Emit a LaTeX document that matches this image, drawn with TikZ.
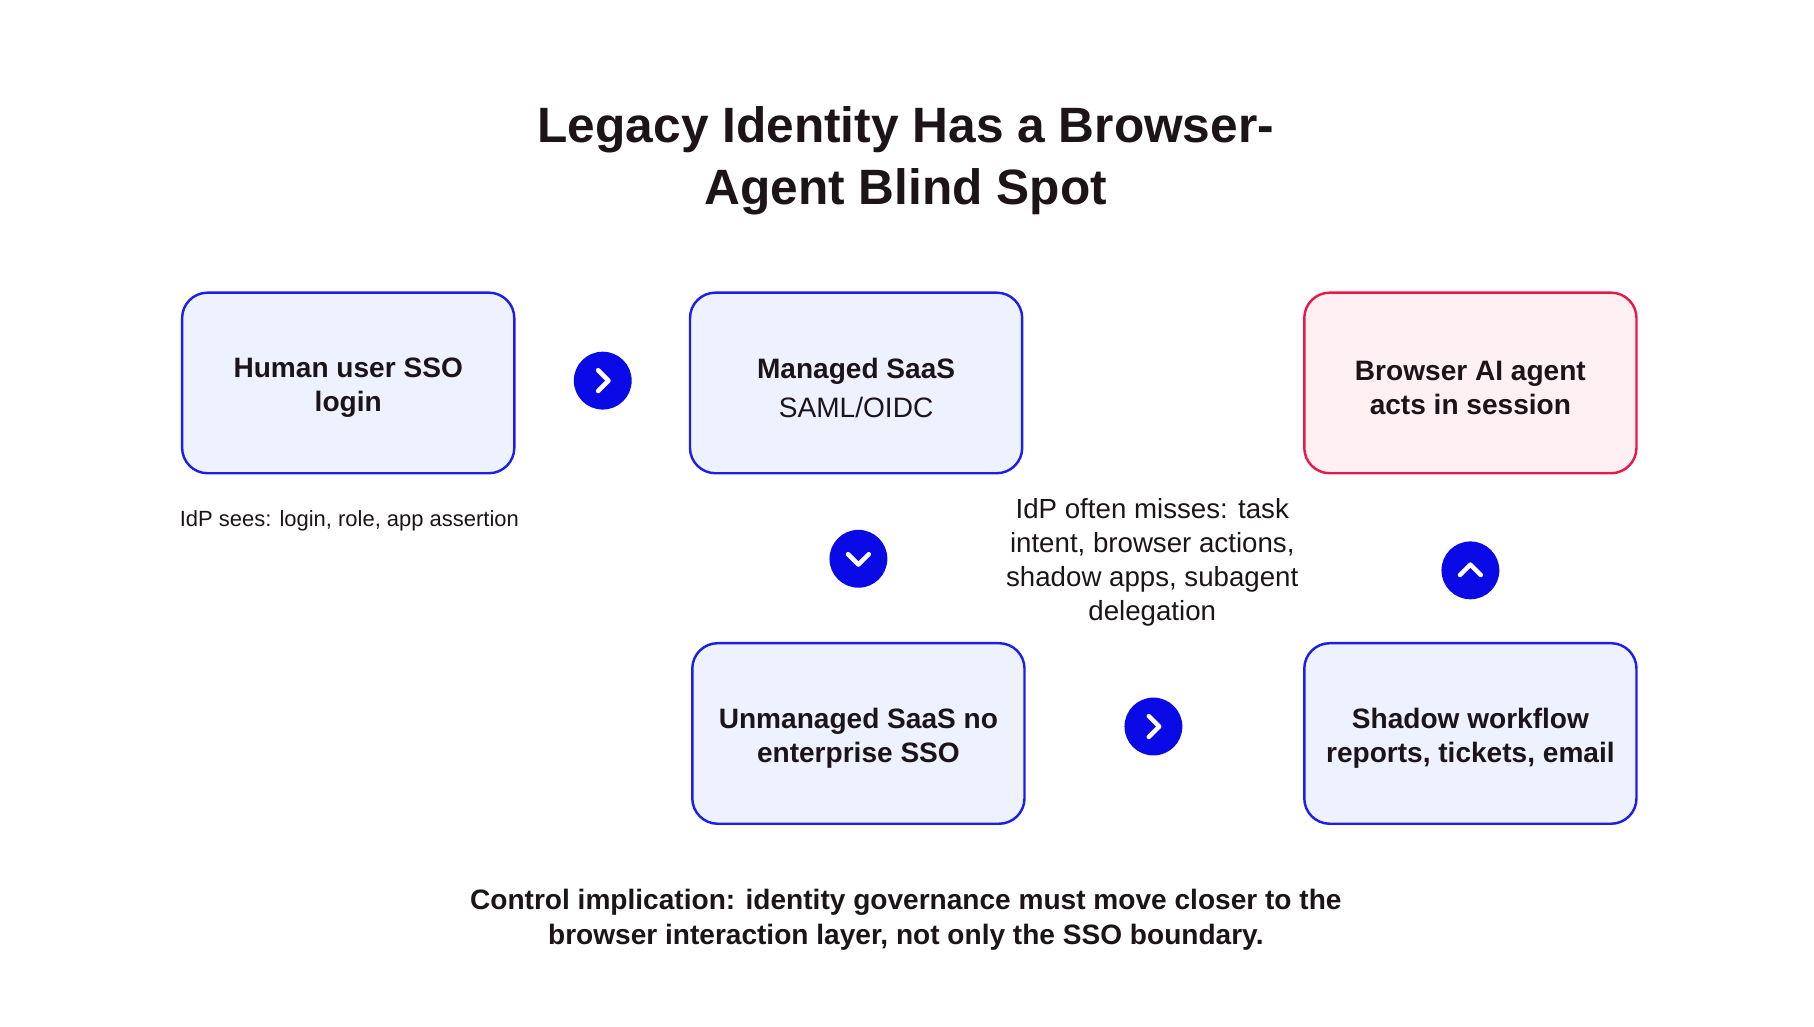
\documentclass[tikz,border=0pt]{standalone}
\usepackage{fontspec}
\setmainfont{Liberation Sans}
\usetikzlibrary{positioning}
\definecolor{boxblue}{RGB}{30,30,235}
\definecolor{boxfill}{RGB}{238,242,255}
\definecolor{boxred}{RGB}{232,25,74}
\definecolor{redfill}{RGB}{255,240,244}
\definecolor{stepblue}{RGB}{10,10,230}
\definecolor{ink}{RGB}{28,20,24}
\begin{document}
\begin{tikzpicture}[
        x=0.01cm, y=-0.01cm,
        stage/.style={rectangle, rounded corners=0.22cm, draw=boxblue, fill=boxfill, line width=0.6pt,
            minimum width=2.87cm, minimum height=1.56cm},
        alert/.style={stage, draw=boxred, fill=redfill},
        stagetext/.style={align=center, text=ink, yshift=-1.2pt, font=\fontsize{6.9}{8.5}\selectfont\bfseries},
        marker/.style={circle, fill=stepblue, minimum size=0.5cm, inner sep=0pt},
        chev/.style={draw=white, line width=1.1pt, line cap=round, line join=round},
        note/.style={align=center, text=ink}
    ]
        \useasboundingbox (0,0) rectangle (1568,887);
        % Title
        \node[note, font=\fontsize{12.2}{15.3}\selectfont\bfseries] (title) at (783,139)
            {Legacy Identity Has a Browser-\\Agent Blind Spot};

        % Stages
        \node[stage] (HUMAN) at (301,331) {};
        \node[stage] (MANAGED) at (740,331) {};
        \node[alert] (AGENT) at (1271,331) {};
        \node[stage] (UNMANAGED) at (742,634) {};
        \node[stage] (SHADOW) at (1271,634) {};
        \node[stagetext] at (HUMAN.center) {Human user SSO\\login};
        \node[stagetext] at (MANAGED.center) {Managed SaaS\\[1pt]\mdseries SAML/OIDC};
        \node[stagetext] at (AGENT.center) {Browser AI agent\\acts in session};
        \node[stagetext] at (UNMANAGED.center) {Unmanaged SaaS no\\enterprise SSO};
        \node[stagetext] at (SHADOW.center) {Shadow workflow\\reports, tickets, email};

        % Step markers
        \node[marker] (S1) at (521,329) {};
        \node[marker] (S2) at (742,483) {};
        \node[marker] (S3) at (997,628) {};
        \node[marker] (S4) at (1271,493) {};
        \draw[chev] ([shift={(-4,-9)}]S1.center) -- ++(9,9) -- ++(-9,9);
        \draw[chev] ([shift={(-4,-9)}]S3.center) -- ++(9,9) -- ++(-9,9);
        \draw[chev] ([shift={(-9,-4)}]S2.center) -- ++(9,9) -- ++(9,-9);
        \draw[chev] ([shift={(-9,4)}]S4.center) -- ++(9,-9) -- ++(9,9);

        % Notes
        \node[note, font=\fontsize{5.4}{6.5}\selectfont] (SEES) at (302,450)
            {IdP sees: login, role, app assertion};
        \node[note, font=\fontsize{6.8}{8.4}\selectfont] (MISSES) at (996,486)
            {IdP often misses: task\\intent, browser actions,\\shadow apps, subagent\\delegation};
        \node[note, font=\fontsize{6.9}{8.5}\selectfont\bfseries] (IMPL) at (783,795)
            {Control implication: identity governance must move closer to the\\browser interaction layer, not only the SSO boundary.};
    \end{tikzpicture}
\end{document}
